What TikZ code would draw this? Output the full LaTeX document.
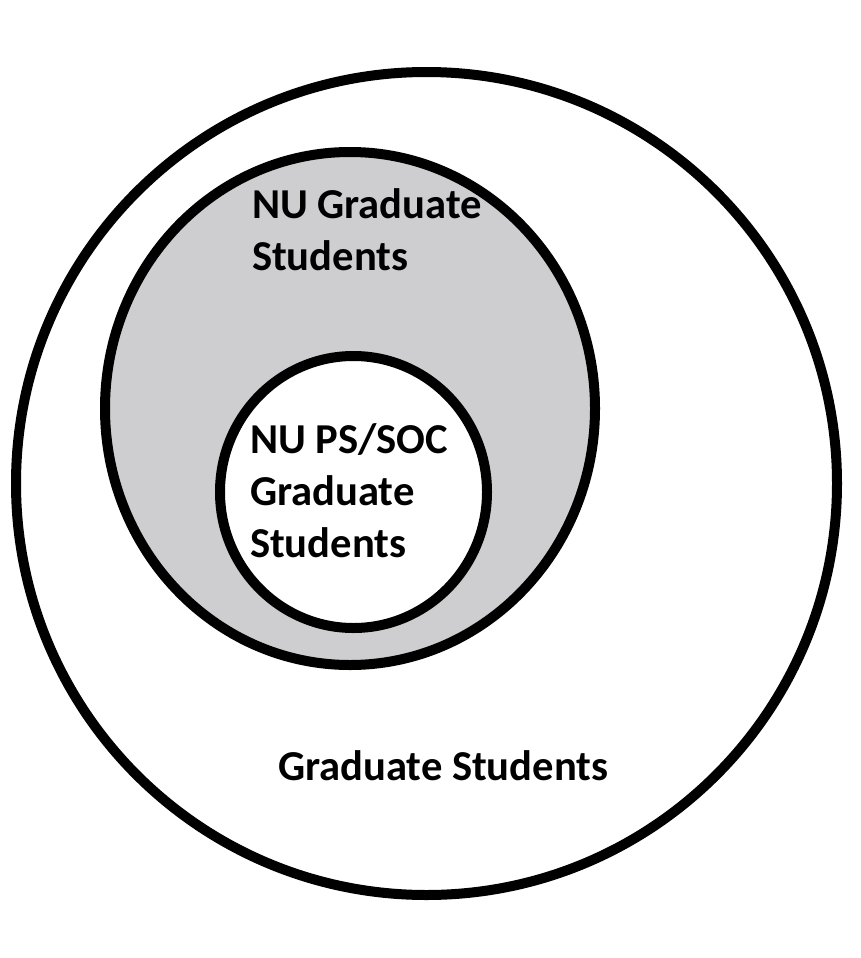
\documentclass[tikz,border=0pt]{standalone}
\usepackage{fontspec}
\setmainfont{Carlito}
\definecolor{grigio}{RGB}{206,205,207}
\begin{document}
\begin{tikzpicture}[
		x=1pt, y=-1pt, line width=10pt,
		insieme/.style={draw=black, line width=10pt},
		etichetta/.style={inner sep=0pt, align=left, anchor=base west,
			font=\fontsize{42.6}{52}\selectfont\bfseries}]
	
	\useasboundingbox (0,0) rectangle (860,958);
	
	%% cerchio esterno: tutti gli studenti
	\draw[insieme, fill=white] (426.5,483.5) ellipse (410.5 and 411.5);
	
	%% cerchio grigio: studenti NU
	\draw[insieme, fill=grigio] (350,408.5) ellipse (245 and 256.5);
	
	%% cerchio interno bianco: PS/SOC
	\draw[insieme, fill=white] (353.5,492) ellipse (133.5 and 136);
	
	%% etichette (base = ultima riga)
	\node[etichetta] (nu) at (247,270) {NU Graduate\\Students};
	\node[etichetta] (pssoc) at (245,557) {NU PS/SOC\\Graduate\\Students};
	\node[etichetta] (tutti) at (273,780) {Graduate Students};
	
\end{tikzpicture}
\end{document}
